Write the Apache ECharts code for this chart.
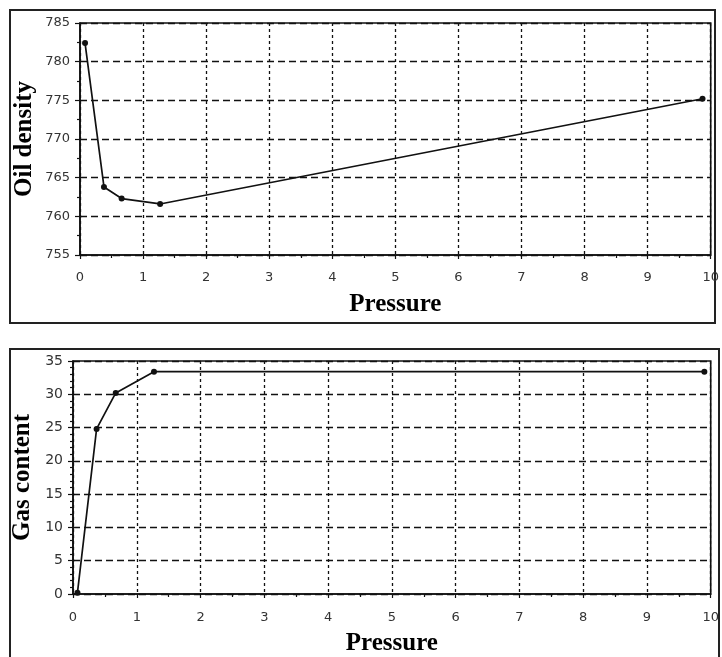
<!DOCTYPE html>
<html>
<head>
<meta charset="utf-8">
<script src="https://cdn.jsdelivr.net/npm/echarts@6/dist/echarts.min.js"></script>
<style>
  html, body { margin: 0; padding: 0; background: #fff; }
  #chart { width: 722px; height: 657px; }
</style>
</head>
<body>
<div id="chart"></div>
<script>
// oil density vs pressure
const pressureOil = [0.08, 0.38, 0.66, 1.27, 9.87]
const oilDensity = [782.4, 763.8, 762.3, 761.6, 775.2]

// gas content vs pressure
const pressureGas = [0.07, 0.37, 0.67, 1.27, 9.9]
const gasContent = [0.2, 24.8, 30.2, 33.4, 33.4]

const pressureTicks = [0, 10, 1]
const densityTicks = [755, 785, 5]
const gasTicks = [0, 35, 5]

const labelFont = { color: '#333', fontFamily: 'DejaVu Sans', fontSize: 13 }
const titleFont = { color: '#000', fontFamily: 'Liberation Serif', fontWeight: 'bold', fontSize: 25 }

function xAxis(gridIndex, gap, margin) {
  return {
    type: 'value',
    gridIndex,
    min: pressureTicks[0],
    max: pressureTicks[1],
    interval: pressureTicks[2],
    name: 'Pressure',
    nameLocation: 'middle',
    nameGap: gap,
    nameTextStyle: titleFont,
    axisLine: { lineStyle: { color: '#111', width: 1.6 } },
    axisTick: { length: 4, lineStyle: { color: '#111', width: 1.2 } },
    minorTick: { show: true, splitNumber: 2, length: 3, lineStyle: { color: '#111', width: 1.2 } },
    axisLabel: { ...labelFont, margin },
    splitLine: { lineStyle: { color: '#111', type: [3, 3], width: 1.3 } }
  }
}

function yAxis(gridIndex, ticks, name, gap, minorSplit, size) {
  return {
    type: 'value',
    gridIndex,
    min: ticks[0],
    max: ticks[1],
    interval: ticks[2],
    name,
    nameLocation: 'middle',
    nameGap: gap,
    nameMoveOverlap: false,
    nameTextStyle: titleFont,
    axisLine: { show: true, lineStyle: { color: '#111', width: 1.6 } },
    axisTick: { show: true, length: 5, lineStyle: { color: '#111', width: 1.2 } },
    minorTick: { show: true, splitNumber: minorSplit, length: 3, lineStyle: { color: '#111', width: 1.2 } },
    axisLabel: { ...labelFont, fontSize: size, margin: 10 },
    splitLine: { lineStyle: { color: '#111', type: [7, 4], width: 1.3 } }
  }
}

function series(xs, ys, axisIndex) {
  return {
    type: 'line',
    xAxisIndex: axisIndex,
    yAxisIndex: axisIndex,
    data: xs.map((x, i) => [x, ys[i]]),
    symbol: 'circle',
    symbolSize: 6,
    lineStyle: { color: '#111', width: 1.7 },
    itemStyle: { color: '#111' },
    animation: false
  }
}

const chart = echarts.init(document.getElementById('chart'))
chart.setOption({
  backgroundColor: '#fff',
  animation: false,
  graphic: [
    { type: 'rect', shape: { x: 10, y: 10, width: 705, height: 313 }, style: { fill: 'none', stroke: '#222', lineWidth: 2 } },
    { type: 'rect', shape: { x: 10, y: 349, width: 709, height: 320 }, style: { fill: 'none', stroke: '#222', lineWidth: 2 } }
  ],
  grid: [
    { left: 80, top: 23, right: 10, height: 232, show: true, borderColor: '#111', borderWidth: 1.6 },
    { left: 73, top: 361, right: 9, height: 237, show: true, borderColor: '#111', borderWidth: 1.6 }
  ],
  xAxis: [xAxis(0, 37, 16), xAxis(1, 37, 17)],
  yAxis: [
    yAxis(0, densityTicks, 'Oil density', 43, 2, 13),
    yAxis(1, gasTicks, 'Gas content', 38, 5, 14)
  ],
  series: [
    series(pressureOil, oilDensity, 0),
    series(pressureGas, gasContent, 1)
  ]
})
</script>
</body>
</html>
